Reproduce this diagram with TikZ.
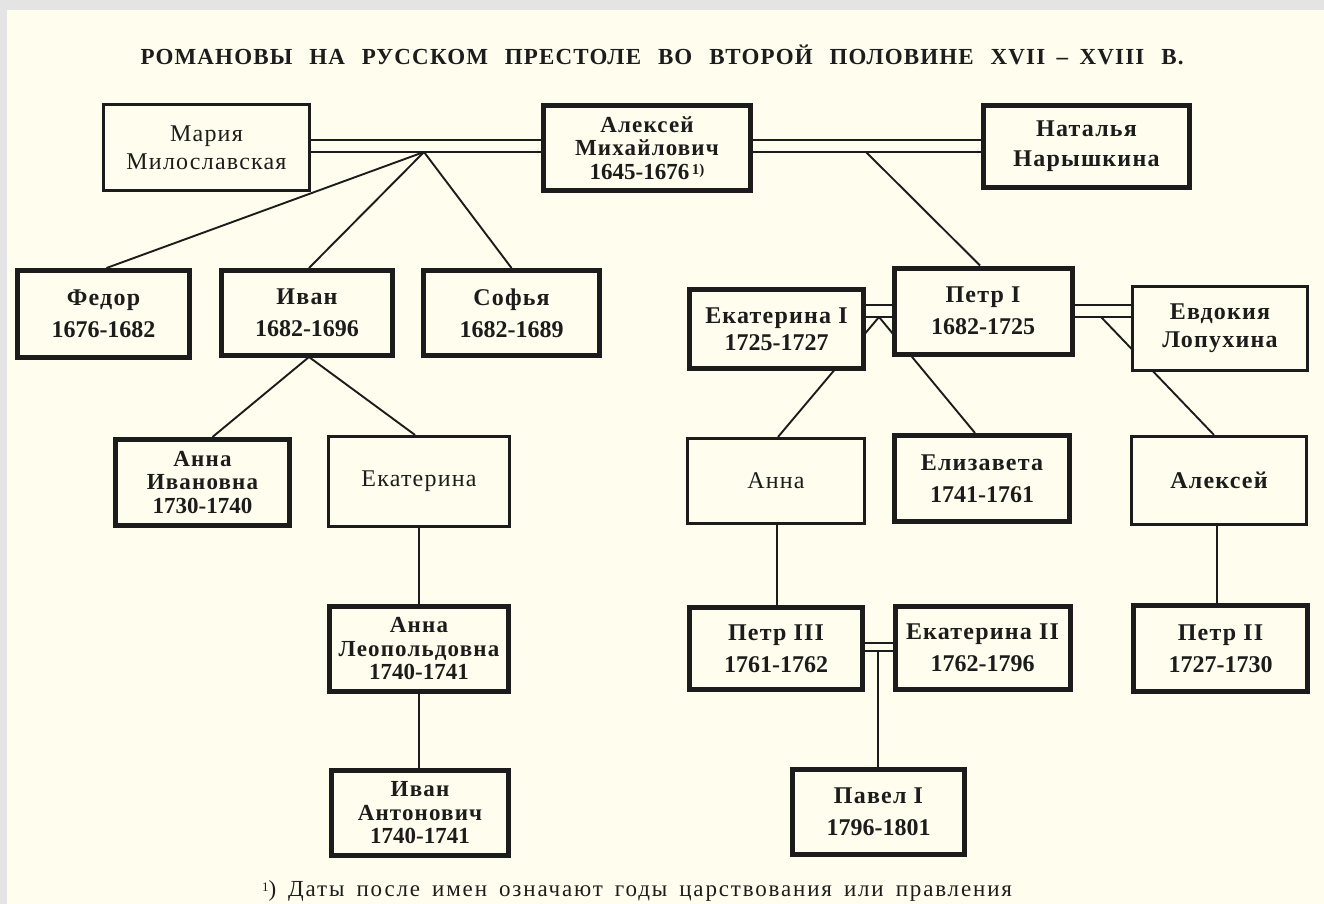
\documentclass[tikz,border=0pt]{standalone}
\usepackage{fontspec}
\setmainfont{Liberation Serif}
\newfontfamily\spc[LetterSpace=5]{Liberation Serif}
\newfontfamily\fnfont[LetterSpace=8]{Liberation Serif}
\newfontfamily\ttlfont[LetterSpace=5]{Liberation Serif}
\definecolor{paper}{HTML}{FFFEEE}
\definecolor{frame}{HTML}{E4E4E4}
\definecolor{ink}{HTML}{1C1C1C}
\newcommand\supone{\raisebox{5pt}{\fontsize{15}{15}\selectfont\,1)}}
\pgfdeclarelayer{paperlayer}
\pgfdeclarelayer{linelayer}
\pgfsetlayers{paperlayer,linelayer,main}
\tikzset{
  box/.style={draw=ink, fill=paper, rectangle, inner sep=0pt, align=center, text=ink},
  heavybox/.style={box, line width=5pt},
  lightbox/.style={box, line width=2.6pt},
  twoline/.style={font=\fontsize{24}{32}\selectfont\bfseries},
  threeline/.style={font=\fontsize{23}{23.5}\selectfont\bfseries},
  conn/.style={draw=ink, line width=1.9pt},
  marr/.style={draw=ink, line width=2pt, double=paper, double distance=10pt},
  marrs/.style={draw=ink, line width=2pt, double=paper, double distance=6pt},
}
\begin{document}
\begin{tikzpicture}[x=1pt, y=-1pt]
\useasboundingbox (0,0) rectangle (1324,904);
\begin{pgfonlayer}{paperlayer}
  \fill[frame] (0,0) rectangle (1324,904);
  \fill[paper] (7,10) rectangle (1324,904);
\end{pgfonlayer}

% title
\node[anchor=base, text=ink, inner sep=0pt, font=\fontsize{23}{28}\selectfont\ttlfont\bfseries] (title) at (662,65)
  {\makebox[1043pt][s]{РОМАНОВЫ НА РУССКОМ ПРЕСТОЛЕ ВО ВТОРОЙ ПОЛОВИНЕ XVII\enspace–\enspace XVIII В.}};

% generation 1
\node[lightbox, twoline, font=\fontsize{24}{28}\selectfont, minimum width=206.5pt, minimum height=86.5pt] (maria) at (206.5,147.5)
  {\spc Мария\\\spc Милославская};
\node[heavybox, threeline, minimum width=207pt, minimum height=85pt] (alexei) at (647,148)
  {{\spc Алексей}\\{\spc Михайлович}\\1645-1676\supone};
\node[heavybox, twoline, font=\fontsize{24}{30}\selectfont\bfseries, minimum width=206pt, minimum height=82pt] (natalia) at (1086.5,146.5)
  {\spc Наталья\\\spc Нарышкина};

% generation 2
\node[heavybox, twoline, minimum width=172pt, minimum height=87pt] (fedor) at (103.5,314)
  {{\spc Федор}\\1676-1682};
\node[heavybox, twoline, minimum width=171pt, minimum height=85pt] (ivan) at (307,313)
  {{\spc Иван}\\1682-1696};
\node[heavybox, twoline, minimum width=176pt, minimum height=85pt] (sofia) at (511.5,313)
  {{\spc Софья}\\1682-1689};
\node[heavybox, twoline, font=\fontsize{24}{27}\selectfont\bfseries, minimum width=174pt, minimum height=79pt] (ekat1) at (776.5,329)
  {{\spc Екатерина I}\\1725-1727};
\node[heavybox, twoline, minimum width=178pt, minimum height=86pt] (petr1) at (983,311)
  {{\spc Петр I}\\1682-1725};
\node[lightbox, twoline, font=\fontsize{24}{28}\selectfont\bfseries, minimum width=175.5pt, minimum height=84.5pt] (evdok) at (1220,328.5)
  {\spc Евдокия\\\spc Лопухина};

% generation 3
\node[heavybox, threeline, minimum width=174pt, minimum height=86pt] (annaiv) at (202.5,482.5)
  {{\spc Анна}\\{\spc Ивановна}\\1730-1740};
\node[lightbox, twoline, font=\fontsize{24}{28}\selectfont, minimum width=181.5pt, minimum height=90.5pt] (ekat) at (419,481.5)
  {\spc Екатерина};
\node[lightbox, twoline, font=\fontsize{24}{28}\selectfont, minimum width=177.5pt, minimum height=85.5pt] (anna) at (776,481)
  {\spc Анна};
\node[heavybox, twoline, minimum width=175pt, minimum height=86pt] (elis) at (982,478.5)
  {{\spc Елизавета}\\1741-1761};
\node[lightbox, twoline, minimum width=175.5pt, minimum height=88.5pt] (alexey) at (1219,480.5)
  {\spc Алексей};

% generation 4
\node[heavybox, threeline, minimum width=179pt, minimum height=85pt] (annaleo) at (419,649)
  {{\spc Анна}\\{\spc Леопольдовна}\\1740-1741};
\node[heavybox, twoline, minimum width=173pt, minimum height=82pt] (petr3) at (776,648.5)
  {{\spc Петр III}\\1761-1762};
\node[heavybox, twoline, minimum width=175pt, minimum height=83pt] (ekat2) at (982.5,648)
  {{\spc Екатерина II}\\1762-1796};
\node[heavybox, twoline, minimum width=174pt, minimum height=86pt] (petr2) at (1220.5,648.5)
  {{\spc Петр II}\\1727-1730};

% generation 5
\node[heavybox, threeline, minimum width=177pt, minimum height=85pt] (ivanant) at (420,813)
  {{\spc Иван}\\{\spc Антонович}\\1740-1741};
\node[heavybox, twoline, minimum width=172pt, minimum height=85pt] (pavel) at (878.5,812)
  {{\spc Павел I}\\1796-1801};

% footnote
\node[anchor=base, text=ink, inner sep=0pt, font=\fontsize{23}{26}\selectfont\fnfont] (note) at (637,896)
  {\makebox[750pt][s]{\raisebox{5pt}{\fontsize{13}{13}\selectfont 1}) Даты после имен означают годы царствования или правления}};

% connectors, behind the boxes
\begin{pgfonlayer}{linelayer}
  \coordinate (f1) at (424,152);
  \coordinate (f2) at (866,152);
  \coordinate (f3) at (879,317);
  \coordinate (f4) at (1101,317);
  \coordinate (f5) at (878,650);
  \coordinate (f6) at (309,357);
  % children of Aleksei and Maria
  \draw[conn] (f1) -- ([xshift=3pt]fedor.north);
  \draw[conn] (f1) -- ([xshift=2pt]ivan.north);
  \draw[conn] (f1) -- (sofia.north);
  % child of Aleksei and Natalia
  \draw[conn] (f2) -- ([xshift=-3pt]petr1.north);
  % marriages
  \draw[marr] ([yshift=1.5pt]maria.east) -- ([yshift=1.5pt]maria.east -| alexei.west);
  \draw[marr] ([yshift=2pt]alexei.east) -- ([yshift=2pt]alexei.east -| natalia.west);
  % children of Ivan
  \draw[conn] (f6) -- ([xshift=10pt]annaiv.north);
  \draw[conn] (f6) -- ([xshift=-4pt]ekat.north);
  \draw[conn] (ekat.south) -- (ekat.south |- annaleo.north);
  \draw[conn] (annaleo.south) -- (annaleo.south |- ivanant.north);
  % Peter I and Catherine I
  \draw[conn] (f3) -- ([xshift=2pt]anna.north);
  \draw[conn] (f3) -- ([xshift=-7pt]elis.north);
  \draw[marr] (petr1.west -| ekat1.east) -- (petr1.west);
  % Peter I and Evdokia
  \draw[conn] (f4) -- ([xshift=-5pt]alexey.north);
  \draw[marr] (petr1.east) -- (petr1.east -| evdok.west);
  % lower lines
  \draw[conn] ([xshift=1pt]anna.south) -- ([xshift=1pt]anna.south |- petr3.north);
  \draw[conn] ([xshift=-2pt]alexey.south) -- ([xshift=-2pt]alexey.south |- petr2.north);
  \draw[marrs] ([yshift=2pt]petr3.east) -- ([yshift=2pt]petr3.east -| ekat2.west);
  \draw[conn] (f5) -- (f5 |- pavel.north);
\end{pgfonlayer}
\end{tikzpicture}
\end{document}
